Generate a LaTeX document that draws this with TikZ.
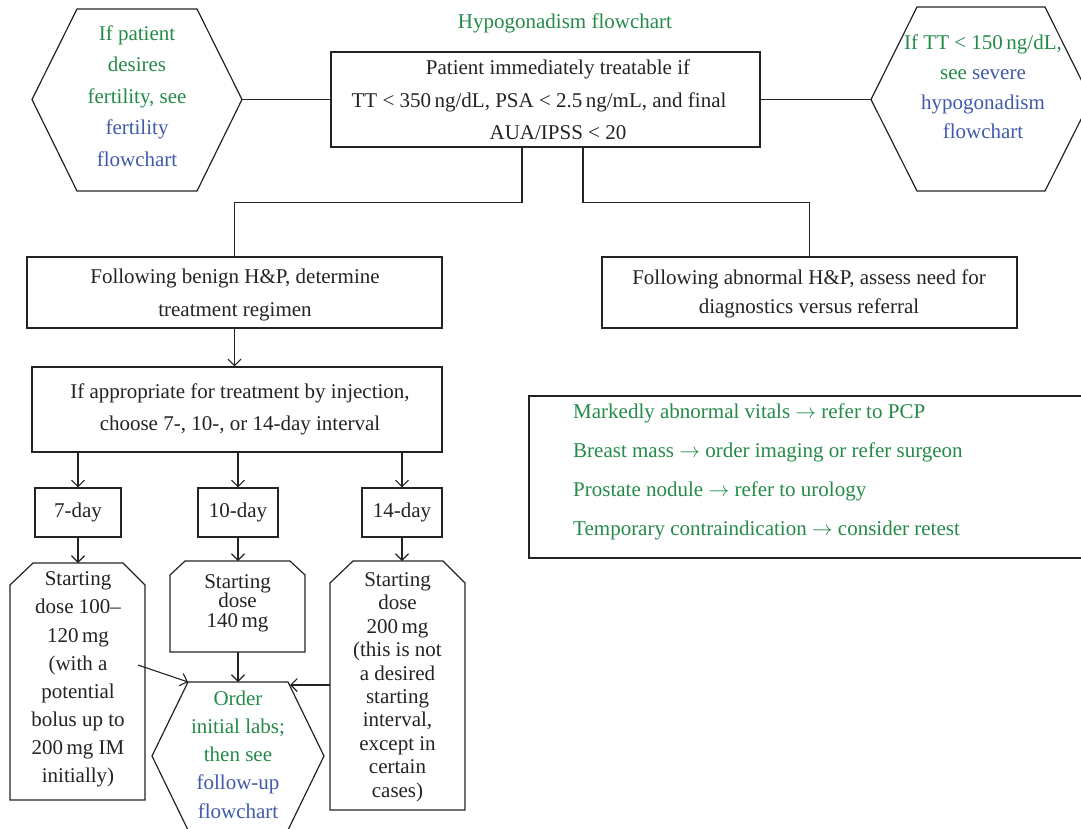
\documentclass[tikz,border=0pt]{standalone}
\usepackage{fontspec}
\setmainfont{Liberation Serif}
\usetikzlibrary{arrows.meta}
\definecolor{tgreen}{RGB}{36,138,72}
\definecolor{tblue}{RGB}{64,90,170}
\definecolor{ink}{RGB}{35,35,35}
\begin{document}
\begin{tikzpicture}[x=1pt,y=-1pt,
  box/.style={draw=ink, line width=1.2pt, inner sep=0pt},
  shp/.style={draw=ink, line width=1.2pt, line join=miter},
  txt/.style={font=\fontsize{21}{#1}\selectfont, align=center, text=ink, inner sep=0pt},
  txt/.default=31,
  conn/.style={draw=ink, line width=1.1pt},
  arr/.style={draw=ink, line width=1.1pt, -{Straight Barb[length=6.5pt,width=13pt,line width=1.1pt]}}
]
\useasboundingbox (0,0) rectangle (1081,828);

% title
\node[txt, text=tgreen] (title) at (565,23) {Hypogonadism flowchart};

% top box
\node[box, minimum width=429pt, minimum height=95pt] (top) at (545.5,99.5) {};
\node[txt=32.5] (toptxt) at (558,100) {Patient immediately treatable if\\
TT < 350\,ng/dL, PSA < 2.5\,ng/mL, and final\makebox[38pt]{}\\
AUA/IPSS < 20};

% left hexagon
\coordinate (lhw) at (32,99.5);
\coordinate (lhe) at (242,99.5);
\draw[shp] (77,9) -- (197,9) -- (lhe) -- (197,191) -- (77,191) -- (lhw) -- cycle;
\node[txt=31.5] (lhtxt) at (137,96) {\textcolor{tgreen}{If patient}\\
\textcolor{tgreen}{desires}\\
\textcolor{tgreen}{fertility, see}\\
\textcolor{tblue}{fertility}\\
\textcolor{tblue}{flowchart}};

% right hexagon
\coordinate (rhw) at (871,99.5);
\coordinate (rhe) at (1091,99.5);
\draw[shp] (917,7) -- (1045,7) -- (rhe) -- (1045,191) -- (917,191) -- (rhw) -- cycle;
\node[txt=29.7] (rhtxt) at (983,87) {\textcolor{tgreen}{If TT < 150\,ng/dL,}\\
\textcolor{tgreen}{see} \textcolor{tblue}{severe}\\
\textcolor{tblue}{hypogonadism}\\
\textcolor{tblue}{flowchart}};

\draw[conn] (lhe) -- (top.west);
\draw[conn] (top.east) -- (rhw);

% second row
\node[box, minimum width=415pt, minimum height=71pt] (ben) at (234.5,292.5) {};
\node[txt=32.5] (bentxt) at (235,295) {Following benign H\&P, determine\\treatment regimen};
\node[box, minimum width=415pt, minimum height=71pt] (abn) at (809.5,292.5) {};
\node[txt=29] (abntxt) at (809,293.5) {Following abnormal H\&P, assess need for\\diagnostics versus referral};

\draw[conn] ([xshift=-23.5pt]top.south) -- ++(0,55) -| (ben.north);
\draw[conn] ([xshift=37.5pt]top.south) -- ++(0,55) -| (abn.north);

% injection box
\node[box, minimum width=410pt, minimum height=85pt] (inj) at (237,409.5) {};
\node[txt=32] (injtxt) at (240,409) {If appropriate for treatment by injection,\\choose 7-, 10-, or 14-day interval};
\draw[arr] (ben.south) -- (ben.south |- inj.north);

% interval boxes
\node[box, minimum width=86pt, minimum height=49pt] (d7) at (78,512.5) {};
\node[txt] at (d7) {7-day};
\node[box, minimum width=80pt, minimum height=49pt] (d10) at (238,512.5) {};
\node[txt] at (d10) {10-day};
\node[box, minimum width=80pt, minimum height=49pt] (d14) at (402,512.5) {};
\node[txt] at (d14) {14-day};
\draw[arr] (inj.south -| d7.north) -- (d7.north);
\draw[arr] (inj.south -| d10.north) -- (d10.north);
\draw[arr] (inj.south -| d14.north) -- (d14.north);

% dose boxes
\coordinate (s7) at (78,563);
\coordinate (s10) at (238,561);
\coordinate (s14) at (402,561);
\draw[shp] (10,585) -- (33,563) -- (123,563) -- (145,585) -- (145,800) -- (10,800) -- cycle;
\draw[shp] (170,575) -- (185,561) -- (290,561) -- (305,575) -- (305,652) -- (170,652) -- cycle;
\draw[shp] (330,583) -- (353,561) -- (443,561) -- (465,583) -- (465,810) -- (330,810) -- cycle;
\draw[arr] (d7.south) -- (s7);
\draw[arr] (d10.south) -- (s10);
\draw[arr] (d14.south) -- (s14);

\node[txt=28.1] (dose7) at (78,679.5) {Starting\\dose 100--\\120\,mg\\(with a\\potential\\bolus up to\\200\,mg IM\\initially)};
\node[txt=19.5] (dose10) at (237.5,603) {Starting\\dose\\140\,mg};
\node[txt=23.4] (dose14) at (397.5,687) {Starting\\dose\\200\,mg\\(this is not\\a desired\\starting\\interval,\\except in\\certain\\cases)};

% order hexagon
\coordinate (onw) at (188,682);
\coordinate (one) at (288,682);
\draw[shp] (onw) -- (one) -- (324,756) -- (288,830) -- (188,830) -- (152,756) -- cycle;
\node[txt=28.3] (ordtxt) at (238,754.5) {\textcolor{tgreen}{Order}\\
\textcolor{tgreen}{initial labs;}\\
\textcolor{tgreen}{then see}\\
\textcolor{tblue}{follow-up}\\
\textcolor{tblue}{flowchart}};

\coordinate (a7) at (138,665);
\coordinate (b10) at (238,652);
\coordinate (ordtop) at (238,682);
\coordinate (a14) at (330,685);
\coordinate (e14) at (290,685);
\draw[arr] (a7) -- (onw);
\draw[arr] (b10) -- (ordtop);
\draw[arr] (a14) -- (e14);

% list box
\node[box, minimum width=561pt, minimum height=162pt] (list) at (809.5,477) {};
\node[txt=39, align=left, anchor=west, text=tgreen] (listtxt) at (573,471.5) {Markedly abnormal vitals $\rightarrow$ refer to PCP\\
Breast mass $\rightarrow$ order imaging or refer surgeon\\
Prostate nodule $\rightarrow$ refer to urology\\
Temporary contraindication $\rightarrow$ consider retest};
\end{tikzpicture}
\end{document}
